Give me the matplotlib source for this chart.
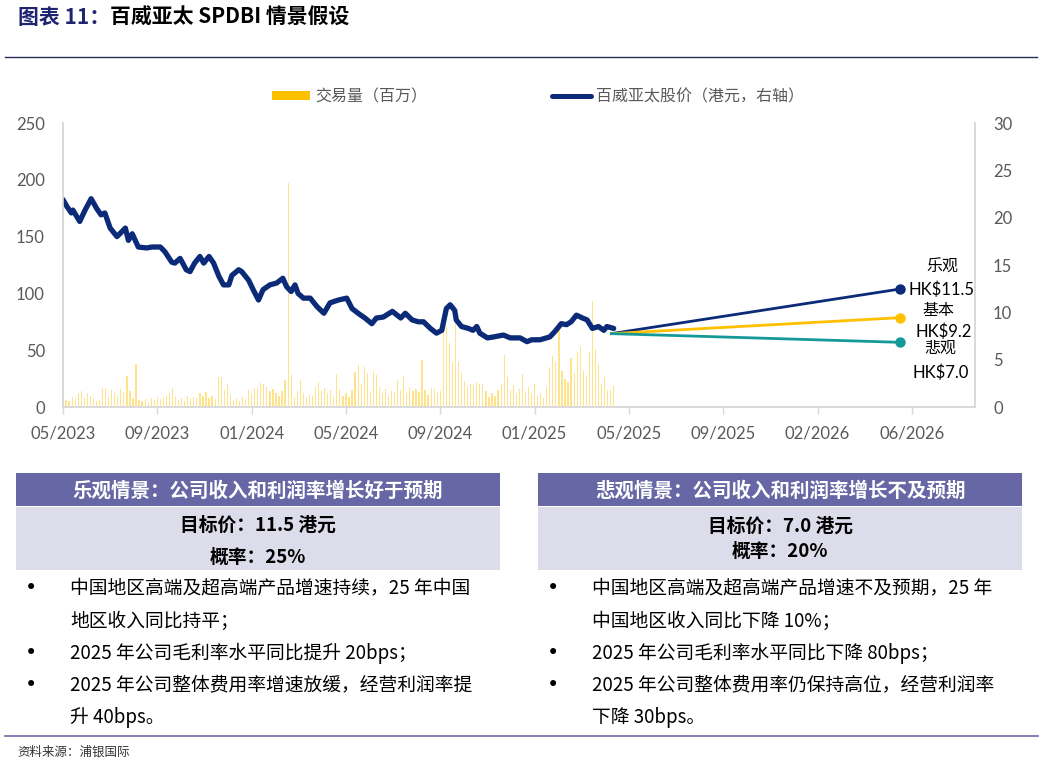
import matplotlib
matplotlib.use('Agg')
import matplotlib.pyplot as plt
import matplotlib.dates as mdates
import pandas as pd
from matplotlib.patches import Rectangle, Patch
from matplotlib.lines import Line2D

plt.rcParams['font.family'] = ['Noto Sans CJK SC', 'DejaVu Sans']

W, H = 1042, 763

# ---------------- data ----------------
price_dates = ['2023-05-16', '2023-05-21', '2023-05-27', '2023-05-29', '2023-06-07', '2023-06-14',
               '2023-06-22', '2023-06-29', '2023-07-05', '2023-07-10', '2023-07-17', '2023-07-26',
               '2023-08-06', '2023-08-10', '2023-08-15', '2023-08-23', '2023-09-03', '2023-09-10',
               '2023-09-21', '2023-09-27', '2023-10-06', '2023-10-10', '2023-10-17', '2023-10-25',
               '2023-10-30', '2023-11-05', '2023-11-12', '2023-11-17', '2023-11-24', '2023-11-30',
               '2023-12-07', '2023-12-13', '2023-12-20', '2023-12-24', '2024-01-02', '2024-01-06',
               '2024-01-15', '2024-01-21', '2024-01-28', '2024-02-03', '2024-02-12', '2024-02-21',
               '2024-02-29', '2024-03-05', '2024-03-11', '2024-03-16', '2024-03-20', '2024-03-27',
               '2024-04-05', '2024-04-14', '2024-04-23', '2024-05-01', '2024-05-12', '2024-05-23',
               '2024-05-30', '2024-06-07', '2024-06-16', '2024-06-25', '2024-07-01', '2024-07-10',
               '2024-07-22', '2024-08-02', '2024-08-08', '2024-08-17', '2024-08-25', '2024-09-01',
               '2024-09-10', '2024-09-18', '2024-09-25', '2024-10-01', '2024-10-06', '2024-10-12',
               '2024-10-14', '2024-10-21', '2024-10-30', '2024-11-05', '2024-11-10', '2024-11-14',
               '2024-11-24', '2024-12-02', '2024-12-15', '2024-12-24', '2025-01-06', '2025-01-15',
               '2025-01-21', '2025-02-01', '2025-02-14', '2025-02-21', '2025-03-01', '2025-03-08',
               '2025-03-14', '2025-03-21', '2025-03-29', '2025-04-04', '2025-04-11', '2025-04-19',
               '2025-04-26', '2025-04-30', '2025-05-09']
price_values = [21.9, 21.2, 20.5, 20.8, 19.6, 20.8,
                22.0, 21.0, 20.3, 20.5, 18.9, 18.0,
                18.9, 17.6, 18.3, 16.9, 16.8, 16.9,
                16.9, 16.4, 15.3, 15.2, 15.7, 14.5,
                14.3, 15.2, 15.9, 15.2, 15.9, 15.2,
                13.8, 12.9, 12.9, 13.9, 14.5, 14.3,
                13.4, 12.4, 11.3, 12.4, 12.9, 13.1,
                13.6, 12.7, 12.2, 12.9, 12.0, 11.5,
                11.5, 10.6, 9.9, 11.0, 11.3, 11.5,
                10.4, 9.9, 9.4, 8.8, 9.4, 9.5,
                10.1, 9.4, 9.9, 9.2, 9.0, 9.0,
                8.3, 7.8, 8.1, 10.4, 10.8, 10.2,
                9.2, 8.5, 8.3, 8.1, 8.5, 7.8,
                7.3, 7.4, 7.6, 7.3, 7.3, 6.9,
                7.1, 7.1, 7.4, 8.0, 8.8, 8.7,
                9.0, 9.7, 9.4, 9.2, 8.3, 8.5,
                8.1, 8.5, 8.3]

# trading volume (million shares), one reading every 4 calendar days from volume_start
volume_start = '2023-05-16'
volume_step_days = 4
volume_values = [8, 6, 5, 9, 7, 12, 14, 8, 12, 10, 7, 5, 6, 17, 17, 9, 15, 14, 10, 16,
                 13, 27, 14, 8, 38, 6, 5, 7, 4, 8, 6, 9, 7, 9, 10, 12, 17, 9, 6, 8,
                 5, 10, 7, 9, 8, 12, 10, 13, 8, 10, 7, 26, 26, 15, 20, 11, 6, 8, 5, 9,
                 7, 15, 12, 17, 17, 21, 20, 18, 14, 16, 12, 10, 14, 24, 197, 28, 9, 14, 24, 12,
                 8, 11, 10, 18, 22, 14, 17, 12, 15, 9, 29, 16, 10, 12, 9, 15, 31, 37, 20, 35,
                 30, 14, 32, 28, 18, 12, 16, 10, 14, 13, 24, 15, 27, 12, 18, 14, 16, 13, 41, 15,
                 11, 17, 16, 12, 14, 66, 71, 56, 39, 74, 40, 30, 23, 18, 20, 19, 22, 20, 20, 14,
                 9, 12, 10, 15, 20, 46, 26, 15, 19, 12, 16, 29, 14, 18, 12, 20, 10, 12, 8, 18,
                 35, 45, 40, 68, 32, 25, 22, 43, 30, 48, 53, 32, 28, 48, 93, 51, 38, 20, 26, 15,
                 15, 19]

scenario_start_date = '2025-05-06'
scenario_start_value = 7.75
scenario_end_date = '2026-05-21'
scenario_names = ['乐观', '基本', '悲观']
scenario_targets = ['HK$11.5', 'HK$9.2', 'HK$7.0']
scenario_end_values = [12.47, 9.44, 6.83]
scenario_colors = ['#0B2A78', '#FFC000', '#139A98']

xtick_start = '2023-05-16'
xtick_step_days = 124
xtick_labels = ['05/2023', '09/2023', '01/2024', '05/2024', '09/2024',
                '01/2025', '05/2025', '09/2025', '02/2026', '06/2026']
x_span_days = 1199

left_ticks = [0, 50, 100, 150, 200, 250]
right_ticks = [0, 5, 10, 15, 20, 25, 30]

legend_labels = ['交易量（百万）', '百威亚太股价（港元，右轴）']

title_prefix = '图表 11：'
title_main = '百威亚太 SPDBI 情景假设'

boxes = [
    {
        'header': '乐观情景：公司收入和利润率增长好于预期',
        'target': '目标价：11.5 港元',
        'prob': '概率：25%',
        'bullets': [['中国地区高端及超高端产品增速持续，25 年中国', '地区收入同比持平；'],
                    ['2025 年公司毛利率水平同比提升 20bps；'],
                    ['2025 年公司整体费用率增速放缓，经营利润率提', '升 40bps。']],
    },
    {
        'header': '悲观情景：公司收入和利润率增长不及预期',
        'target': '目标价：7.0 港元',
        'prob': '概率：20%',
        'bullets': [['中国地区高端及超高端产品增速不及预期，25 年', '中国地区收入同比下降 10%；'],
                    ['2025 年公司毛利率水平同比下降 80bps；'],
                    ['2025 年公司整体费用率仍保持高位，经营利润率', '下降 30bps。']],
    },
]
source_text = '资料来源：浦银国际'

# ---------------- helpers ----------------
def fx(x):
    return x / W

def fy(y):
    return 1 - y / H

NAVY = '#0B2A78'
GRAY = '#595959'
SPINE = '#D9D9D9'
HEAD = '#6767A5'
BAND = '#DCDCEA'

fig = plt.figure(figsize=(W / 100, H / 100), dpi=100)
fig.patch.set_facecolor('white')

# ---------------- chart ----------------
ax = fig.add_axes([fx(63), fy(407), fx(975) - fx(63), fy(123) - fy(407)])
ax2 = ax.twinx()
ax.set_zorder(1)
ax2.set_zorder(2)
ax.patch.set_visible(False)
ax2.patch.set_visible(False)

t0 = mdates.date2num(pd.Timestamp(xtick_start))
vdates = pd.date_range(volume_start, periods=len(volume_values), freq=f'{volume_step_days}D')
ax.bar(mdates.date2num(vdates), volume_values, width=1.6, color='#FFC000', alpha=0.45,
       linewidth=0, align='center')

pdates = mdates.date2num(pd.to_datetime(price_dates))
ax2.plot(pdates, price_values, color=NAVY, lw=3.8, solid_joinstyle='round',
         solid_capstyle='round')

s_x = mdates.date2num(pd.Timestamp(scenario_start_date))
e_x = mdates.date2num(pd.Timestamp(scenario_end_date))
for name, tgt, val, col in zip(scenario_names, scenario_targets, scenario_end_values, scenario_colors):
    ax2.plot([s_x, e_x], [scenario_start_value, val], color=col, lw=2.0)
    ax2.plot([e_x], [val], 'o', color=col, ms=6.5)

offsets = [((42, 22), (41, -1)), ((38, 7), (43, -14)), ((40, -6), (40, -30))]
for (name, tgt, val, off) in zip(scenario_names, scenario_targets, scenario_end_values, offsets):
    ax2.annotate(name, (e_x, val), xytext=off[0], textcoords='offset pixels',
                 ha='center', va='center', fontsize=11.5, color='black')
    ax2.annotate(tgt, (e_x, val), xytext=off[1], textcoords='offset pixels',
                 ha='center', va='center', fontsize=12, color='black', family=['Lato', 'DejaVu Sans'])

ax.set_xlim(t0, t0 + x_span_days)
ax.set_ylim(0, 250)
ax2.set_ylim(0, 30)
ax.set_xticks([t0 + i * xtick_step_days for i in range(len(xtick_labels))])
ax.set_xticklabels(xtick_labels)
ax.set_yticks(left_ticks)
ax2.set_yticks(right_ticks)

for a in (ax, ax2):
    a.spines['top'].set_visible(False)
    for side in ['left', 'right', 'bottom']:
        a.spines[side].set_color(SPINE)
        a.spines[side].set_linewidth(1.2)
ax.tick_params(axis='x', colors=SPINE, length=5, width=1, labelcolor=GRAY, labelsize=12, pad=8)
ax.tick_params(axis='y', length=0, labelcolor=GRAY, labelsize=12, pad=13)
ax2.tick_params(axis='y', length=0, labelcolor=GRAY, labelsize=12, pad=13)
for lab in ax.get_xticklabels() + ax.get_yticklabels() + ax2.get_yticklabels():
    lab.set_family(['Lato', 'DejaVu Sans'])

handles = [Patch(facecolor='#FFC000', edgecolor='none'),
           Line2D([], [], color=NAVY, lw=3.6, solid_capstyle='round')]
leg = fig.legend(handles, legend_labels, loc='center', bbox_to_anchor=(fx(538), fy(97)),
                 ncol=2, frameon=False, fontsize=11.5, handlelength=2.4, handleheight=0.5,
                 handletextpad=0.35, columnspacing=7.8)
for t in leg.get_texts():
    t.set_color(GRAY)

# ---------------- title ----------------
tt = fig.text(fx(18), fy(17), title_prefix, fontsize=15, fontweight='bold', color='#1F2470',
              ha='left', va='center')
fig.canvas.draw()
bb = tt.get_window_extent()
fig.text(bb.x1 / W, fy(17), title_main, fontsize=15, fontweight='bold', color='black',
         ha='left', va='center')
fig.add_artist(Line2D([fx(5), fx(1037)], [fy(57), fy(57)], color='#2A2F55', lw=1.0))

# ---------------- scenario boxes ----------------
box_x = [(16, 500), (538, 1022)]
bullet_x = [31, 553]
text_x = [70, 592]
target_y = [(525, 557), (526, 551)]
line_ys = [[588, 621], [653], [685, 718]]
for b, (x0, x1), bx, tx, (ty1, ty2) in zip(boxes, box_x, bullet_x, text_x, target_y):
    fig.add_artist(Rectangle((fx(x0), fy(506)), fx(x1) - fx(x0), fy(473) - fy(506),
                             facecolor=HEAD, edgecolor='none'))
    fig.add_artist(Rectangle((fx(x0), fy(570)), fx(x1) - fx(x0), fy(507) - fy(570),
                             facecolor=BAND, edgecolor='none'))
    cx = fx((x0 + x1) / 2)
    fig.text(cx, fy(491), b['header'], fontsize=14, fontweight='bold', color='white',
             ha='center', va='center')
    fig.text(cx, fy(ty1), b['target'], fontsize=13.5, fontweight='bold', color='black',
             ha='center', va='center')
    fig.text(cx, fy(ty2), b['prob'], fontsize=13.5, fontweight='bold', color='black',
             ha='center', va='center')
    for lines, ys in zip(b['bullets'], line_ys):
        fig.text(fx(bx), fy(ys[0]), '•', fontsize=15, color='black', ha='center', va='center',
                 family=['DejaVu Sans'])
        for ln, yy in zip(lines, ys):
            fig.text(fx(tx), fy(yy), ln, fontsize=13.5, color='black', ha='left', va='center')

fig.add_artist(Line2D([fx(5), fx(1038)], [fy(736), fy(736)], color='#6B6BA8', lw=1.2))
fig.text(fx(17), fy(752), source_text, fontsize=9, color='#333333', ha='left', va='center')

fig.savefig('out.png', dpi=100, facecolor='white')
